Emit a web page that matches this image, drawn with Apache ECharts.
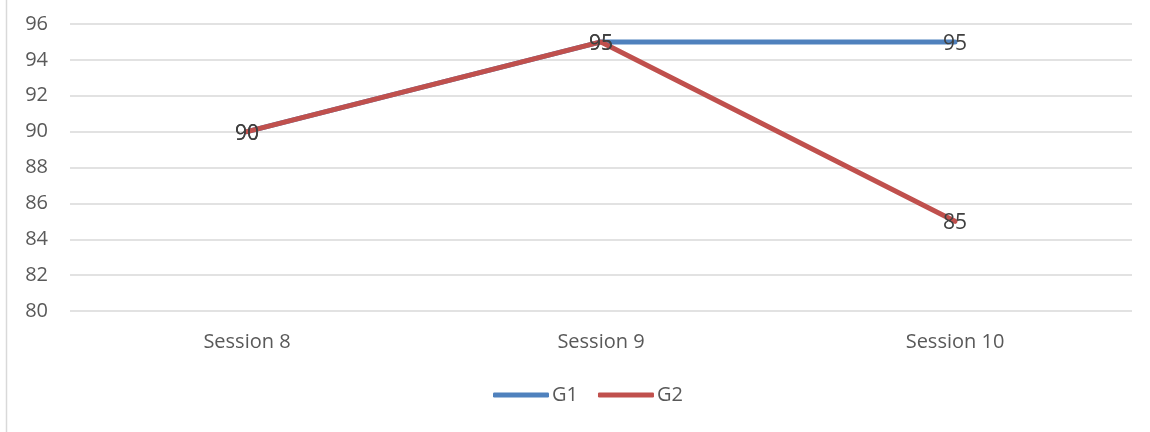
<!DOCTYPE html>
<html>
<head>
<meta charset="utf-8">
<script src="https://cdn.jsdelivr.net/npm/echarts@6/dist/echarts.min.js"></script>
<style>
  html, body { margin: 0; padding: 0; background: #fff; }
  #chart { width: 1150px; height: 432px; }
</style>
</head>
<body>
<div id="chart"></div>
<script>
const categories = ['Session 8', 'Session 9', 'Session 10'];
const g1Values = [90, 95, 95];
const g2Values = [90, 95, 85];

const textColor = '#595959';
const labelColor = '#404040';
const fontFamily = '"Open Sans", "Noto Sans", sans-serif';

const chart = echarts.init(document.getElementById('chart'));

function lineSeries(name, data, color) {
  return {
    name: name,
    type: 'line',
    data: data,
    symbol: 'circle',
    symbolSize: 1,
    showSymbol: true,
    lineStyle: { width: 5, color: color, cap: 'round' },
    itemStyle: { color: 'rgba(0,0,0,0)', borderWidth: 0 },
    label: {
      show: true,
      position: 'inside',
      offset: [0, 2],
      color: labelColor,
      fontSize: 21,
      fontFamily: fontFamily
    },
    emphasis: { disabled: true }
  };
}

chart.setOption({
  animation: false,
  grid: { left: 70, right: 18, top: 24, bottom: 121 },
  legend: {
    bottom: 22,
    left: 488,
    itemWidth: 56,
    itemHeight: 5,
    itemGap: 20,
    textStyle: { color: textColor, fontSize: 20, fontFamily: fontFamily, padding: [0, 0, 0, -2] },
    icon: 'roundRect',
    data: [
      { name: 'G1', itemStyle: { color: '#4F81BD' } },
      { name: 'G2', itemStyle: { color: '#C0504D' } }
    ]
  },
  xAxis: {
    type: 'category',
    data: categories,
    boundaryGap: true,
    axisLine: { show: false },
    axisTick: { show: false },
    axisLabel: { color: textColor, fontSize: 20, fontFamily: fontFamily, margin: 21 }
  },
  yAxis: {
    type: 'value',
    min: 80,
    max: 96,
    interval: 2,
    axisLine: { show: false },
    axisTick: { show: false },
    axisLabel: { color: textColor, fontSize: 20, fontFamily: fontFamily, margin: 22 },
    splitLine: { lineStyle: { color: '#d9d9d9', width: 1.5 } }
  },
  graphic: [{
    type: 'line',
    shape: { x1: 6.5, y1: 0, x2: 6.5, y2: 432 },
    style: { stroke: '#d9d9d9', lineWidth: 1.5 }
  }],
  series: [
    lineSeries('G1', g1Values, '#4F81BD'),
    lineSeries('G2', g2Values, '#C0504D')
  ]
});
</script>
</body>
</html>
